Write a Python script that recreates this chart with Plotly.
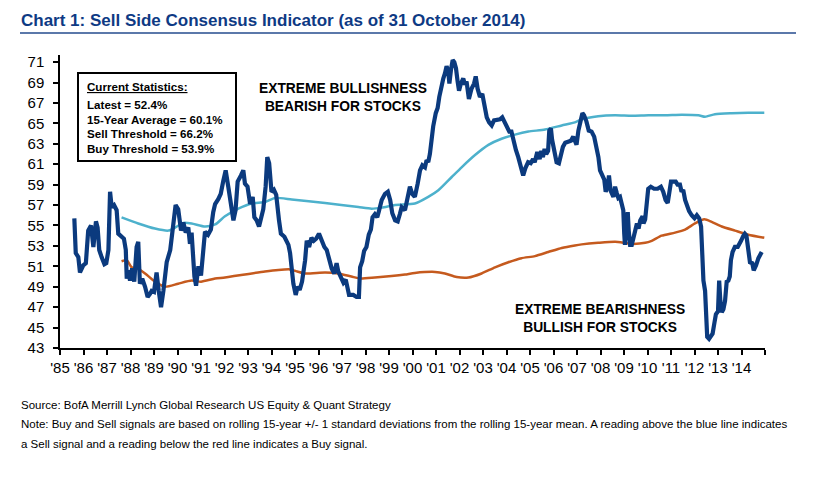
import plotly.graph_objects as go

# Sell side consensus indicator (%), decimal years
sentiment_year = [
    1985.61, 1985.67, 1985.78, 1985.85, 1985.99, 1986.10, 1986.20, 1986.32, 1986.42, 1986.50,
    1986.53, 1986.60, 1986.67, 1986.77, 1986.89, 1986.97, 1987.06, 1987.13, 1987.20, 1987.30,
    1987.41, 1987.48, 1987.60, 1987.72, 1987.80, 1987.84, 1987.90, 1987.98, 1988.07, 1988.16,
    1988.26, 1988.33, 1988.40, 1988.50, 1988.62, 1988.73, 1988.83, 1988.90, 1989.00, 1989.11,
    1989.20, 1989.30, 1989.40, 1989.54, 1989.69, 1989.82, 1989.92, 1990.03, 1990.15, 1990.25,
    1990.35, 1990.46, 1990.53, 1990.60, 1990.72, 1990.79, 1990.89, 1991.00, 1991.10, 1991.17,
    1991.30, 1991.42, 1991.52, 1991.60, 1991.74, 1991.84, 1991.95, 1992.05, 1992.16, 1992.30,
    1992.38, 1992.47, 1992.56, 1992.70, 1992.80, 1992.87, 1992.98, 1993.09, 1993.20, 1993.27,
    1993.37, 1993.47, 1993.56, 1993.65, 1993.75, 1993.82, 1993.90, 1994.00, 1994.10, 1994.20,
    1994.32, 1994.40, 1994.55, 1994.72, 1994.79, 1994.86, 1994.93, 1995.03, 1995.11, 1995.20,
    1995.30, 1995.43, 1995.50, 1995.60, 1995.70, 1995.80, 1995.90, 1996.02, 1996.13, 1996.25,
    1996.35, 1996.45, 1996.56, 1996.67, 1996.77, 1996.84, 1996.96, 1997.06, 1997.16, 1997.24,
    1997.30, 1997.48, 1997.62, 1997.72, 1997.77, 1997.86, 1997.94, 1998.04, 1998.14, 1998.23,
    1998.30, 1998.40, 1998.50, 1998.57, 1998.69, 1998.83, 1998.95, 1999.05, 1999.14, 1999.26,
    1999.37, 1999.46, 1999.54, 1999.68, 1999.79, 1999.89, 1999.99, 2000.10, 2000.22, 2000.32,
    2000.42, 2000.53, 2000.60, 2000.67, 2000.74, 2000.81, 2000.88, 2000.99, 2001.07, 2001.14,
    2001.24, 2001.31, 2001.38, 2001.45, 2001.52, 2001.57, 2001.64, 2001.71, 2001.78, 2001.85,
    2001.92, 2001.98, 2002.06, 2002.16, 2002.23, 2002.30, 2002.40, 2002.51, 2002.62, 2002.69,
    2002.77, 2002.87, 2002.97, 2003.06, 2003.16, 2003.26, 2003.37, 2003.47, 2003.58, 2003.72,
    2003.82, 2003.94, 2004.04, 2004.12, 2004.21, 2004.28, 2004.33, 2004.40, 2004.50, 2004.57,
    2004.64, 2004.71, 2004.80, 2004.92, 2005.03, 2005.13, 2005.20, 2005.31, 2005.41, 2005.48,
    2005.55, 2005.62, 2005.69, 2005.77, 2005.82, 2005.89, 2005.94, 2006.03, 2006.13, 2006.23,
    2006.30, 2006.40, 2006.50, 2006.63, 2006.74, 2006.84, 2006.91, 2006.98, 2007.06, 2007.13,
    2007.23, 2007.30, 2007.40, 2007.50, 2007.62, 2007.73, 2007.84, 2007.91, 2007.98, 2008.08,
    2008.16, 2008.22, 2008.31, 2008.36, 2008.43, 2008.55, 2008.62, 2008.69, 2008.76, 2008.83,
    2008.90, 2008.97, 2009.01, 2009.04, 2009.10, 2009.16, 2009.20, 2009.26, 2009.33, 2009.40,
    2009.47, 2009.55, 2009.62, 2009.69, 2009.79, 2009.83, 2009.90, 2009.96, 2010.03, 2010.14,
    2010.28, 2010.43, 2010.57, 2010.67, 2010.77, 2010.86, 2010.93, 2011.00, 2011.10, 2011.20,
    2011.28, 2011.38, 2011.45, 2011.52, 2011.60, 2011.67, 2011.77, 2011.88, 2012.00, 2012.10,
    2012.20, 2012.28, 2012.33, 2012.38, 2012.45, 2012.49, 2012.54, 2012.62, 2012.70, 2012.77,
    2012.85, 2012.91, 2013.00, 2013.02, 2013.05, 2013.10, 2013.16, 2013.23, 2013.30, 2013.37,
    2013.44, 2013.50, 2013.55, 2013.62, 2013.72, 2013.84, 2013.89, 2013.98, 2014.08, 2014.14,
    2014.21, 2014.29, 2014.36, 2014.46, 2014.52, 2014.62, 2014.72, 2014.86,
]
sentiment_value = [
    55.7, 52.3, 51.9, 50.4, 51.1, 51.3, 54.5, 55.0, 52.9, 54.3,
    55.4, 54.8, 52.6, 51.9, 51.2, 51.3, 52.6, 58.3, 56.8, 57.0,
    56.5, 54.2, 54.0, 53.7, 52.6, 49.8, 50.6, 49.6, 50.8, 49.5,
    52.9, 53.4, 49.3, 49.8, 49.0, 48.0, 48.3, 48.6, 48.5, 50.4,
    48.6, 47.0, 48.6, 51.4, 52.6, 55.5, 57.0, 56.6, 54.5, 55.3,
    54.3, 54.8, 53.2, 54.3, 50.0, 49.1, 51.0, 50.1, 52.2, 54.4,
    54.1, 54.6, 56.3, 57.1, 57.6, 58.1, 59.4, 60.4, 58.8, 56.5,
    55.5, 56.5, 59.3, 59.9, 60.4, 59.1, 58.8, 57.1, 57.8, 55.8,
    55.5, 54.9, 56.0, 56.6, 58.8, 61.7, 61.1, 58.3, 58.5, 58.0,
    55.5, 54.2, 53.9, 53.1, 52.3, 50.6, 49.3, 48.2, 49.0, 48.7,
    49.5, 51.6, 53.5, 52.9, 53.8, 53.5, 53.7, 54.2, 53.5, 52.9,
    52.6, 51.8, 50.8, 50.3, 51.3, 50.5, 49.9, 49.4, 49.7, 48.6,
    48.2, 48.2, 48.0, 48.0, 50.9, 51.5, 52.5, 52.9, 54.1, 54.6,
    55.8, 56.1, 55.8, 56.4, 57.5, 58.1, 58.3, 57.5, 56.2, 55.5,
    55.4, 56.1, 56.8, 56.5, 57.8, 58.8, 58.1, 57.8, 59.1, 60.4,
    60.9, 60.7, 61.4, 61.2, 62.0, 63.4, 64.7, 66.0, 66.5, 67.6,
    68.9, 69.4, 69.9, 70.6, 70.1, 68.9, 70.3, 71.2, 71.0, 70.4,
    69.1, 68.2, 68.9, 69.4, 68.8, 69.1, 67.4, 68.4, 68.9, 69.6,
    68.4, 67.6, 67.9, 66.6, 65.6, 65.1, 64.8, 65.3, 65.3, 65.4,
    65.6, 65.1, 64.5, 64.2, 64.2, 63.5, 62.9, 62.4, 61.7, 61.1,
    60.4, 59.9, 60.6, 61.2, 61.1, 61.5, 61.2, 62.2, 61.5, 62.3,
    61.7, 62.5, 62.0, 62.3, 64.3, 64.5, 63.4, 62.4, 61.2, 61.1,
    62.0, 62.7, 63.1, 63.2, 63.3, 63.7, 63.3, 62.9, 64.3, 64.9,
    66.0, 65.8, 65.2, 64.3, 64.2, 63.7, 62.7, 61.7, 60.4, 59.9,
    59.5, 58.3, 58.9, 59.9, 58.4, 57.8, 58.8, 58.2, 57.7, 57.8,
    57.0, 56.5, 54.2, 53.1, 54.9, 56.3, 54.5, 53.1, 53.1, 53.9,
    54.5, 55.2, 54.7, 55.5, 55.9, 55.2, 55.6, 57.5, 58.6, 58.8,
    58.6, 58.6, 58.8, 58.3, 57.5, 57.2, 58.5, 59.3, 59.3, 59.3,
    59.0, 59.0, 58.3, 58.5, 57.5, 56.9, 56.4, 56.0, 55.7, 56.0,
    55.7, 54.9, 52.9, 49.6, 48.6, 46.7, 44.1, 43.9, 44.2, 44.4,
    45.5, 46.3, 46.6, 48.6, 49.6, 47.6, 46.5, 46.8, 47.6, 49.5,
    49.6, 50.0, 51.6, 52.4, 52.9, 52.9, 53.2, 53.5, 54.0, 54.2,
    54.0, 52.2, 51.4, 51.3, 50.6, 51.1, 51.8, 52.4,
]

# Sell threshold: rolling 15-year mean + 1 std
sell_year = [
    1987.62, 1988.33, 1989.04, 1989.61, 1989.90, 1990.25, 1990.60, 1991.17, 1991.60, 1992.02,
    1992.59, 1993.16, 1993.73, 1994.15, 1994.86, 1996.28, 1997.70, 1998.26, 1998.70, 1999.26,
    2000.10, 2000.67, 2001.10, 2001.67, 2002.09, 2002.66, 2003.23, 2003.79, 2004.36, 2004.93,
    2005.64, 2006.35, 2006.91, 2007.20, 2007.90, 2008.62, 2009.33, 2010.04, 2010.75, 2011.46,
    2012.17, 2012.45, 2012.87, 2013.58, 2014.29, 2014.97,
]
sell_value = [
    55.8, 55.2, 54.7, 54.5, 54.8, 55.25, 55.2, 54.9, 55.1, 55.9,
    56.65, 57.15, 57.3, 57.7, 57.55, 57.2, 56.8, 56.65, 56.75, 57.0,
    57.15, 57.8, 58.45, 59.75, 60.7, 61.9, 62.9, 63.5, 63.9, 64.2,
    64.4, 64.8, 65.1, 65.4, 65.7, 65.8, 65.75, 65.8, 65.8, 65.85,
    65.8, 65.65, 65.9, 66.0, 66.05, 66.05,
]

# Buy threshold: rolling 15-year mean - 1 std
buy_year = [
    1987.62, 1987.84, 1988.05, 1988.33, 1988.62, 1989.04, 1989.47, 1990.03, 1990.60, 1991.00,
    1991.60, 1992.02, 1992.87, 1993.72, 1994.29, 1994.79, 1995.10, 1995.43, 1996.28, 1996.84,
    1997.40, 1997.77, 1998.40, 1999.11, 1999.68, 2000.10, 2000.96, 2001.38, 2001.88, 2002.38,
    2002.94, 2003.51, 2004.08, 2004.64, 2005.21, 2005.78, 2006.35, 2006.91, 2007.20, 2007.90,
    2008.62, 2009.33, 2009.90, 2010.18, 2010.60, 2011.17, 2011.60, 2012.02, 2012.42, 2012.73,
    2013.16, 2013.72, 2014.29, 2014.97,
]
buy_value = [
    51.5, 51.6, 50.9, 50.75, 50.3, 49.5, 49.0, 49.3, 49.6, 49.5,
    49.8, 49.9, 50.2, 50.5, 50.65, 50.7, 50.5, 50.3, 50.4, 50.3,
    50.0, 49.8, 49.9, 50.05, 50.2, 50.35, 50.45, 50.3, 49.95, 49.9,
    50.3, 50.9, 51.4, 51.8, 52.0, 52.4, 52.8, 53.05, 53.15, 53.3,
    53.4, 53.2, 53.3, 53.5, 54.0, 54.3, 54.6, 55.2, 55.6, 55.35,
    54.9, 54.5, 54.1, 53.8,
]

year_ticks = list(range(1985, 2016))
year_labels = ["'%02d" % (y % 100) for y in range(1985, 2015)] + [""]
value_ticks = list(range(43, 72, 2))

stats_lines = [
    "<u>Current Statistics:</u>",
    "Latest = 52.4%",
    "15-Year Average = 60.1%",
    "Sell Threshold = 66.2%",
    "Buy Threshold = 53.9%",
]

W, H = 835, 502
L, R, T, B = 60, 70, 55, 154


def px(x):
    return (x - L) / (W - L - R)


def py(y):
    return (H - B - y) / (H - T - B)


NAVY = "#0B3A7E"
SKY = "#4DB1CC"
RUST = "#C55A1E"
FONT = "Liberation Sans, Arial, sans-serif"

fig = go.Figure()

fig.add_trace(go.Scatter(
    x=sell_year, y=sell_value, mode="lines",
    line=dict(color=SKY, width=2.5, shape="spline", smoothing=0.6),
    hoverinfo="skip",
))
fig.add_trace(go.Scatter(
    x=buy_year, y=buy_value, mode="lines",
    line=dict(color=RUST, width=2.5, shape="spline", smoothing=0.6),
    hoverinfo="skip",
))
fig.add_trace(go.Scatter(
    x=sentiment_year, y=sentiment_value, mode="lines",
    line=dict(color=NAVY, width=4.2),
))

annotations = [
    dict(x=px(19), y=py(20), text="<b>Chart 1: Sell Side Consensus Indicator (as of 31 October 2014)</b>",
         font=dict(family=FONT, size=17, color="#0E3A84"),
         xanchor="left", yanchor="middle"),
    dict(x=px(343), y=py(97), text="<b>EXTREME BULLISHNESS<br>BEARISH FOR STOCKS</b>",
         font=dict(family=FONT, size=13.8, color="black"), xanchor="center", yanchor="middle"),
    dict(x=px(600), y=py(318), text="<b>EXTREME BEARISHNESS<br>BULLISH FOR STOCKS</b>",
         font=dict(family=FONT, size=13.8, color="black"), xanchor="center", yanchor="middle"),
    dict(x=px(19), y=py(405), text="Source: BofA Merrill Lynch Global Research US Equity & Quant Strategy",
         font=dict(family=FONT, size=11.5, color="black"), xanchor="left", yanchor="middle"),
    dict(x=px(19), y=py(424),
         text="Note: Buy and Sell signals are based on rolling 15-year +/- 1 standard deviations from the rolling 15-year mean. A reading above the blue line indicates",
         font=dict(family=FONT, size=11.5, color="black"), xanchor="left", yanchor="middle"),
    dict(x=px(19), y=py(444),
         text="a Sell signal and a reading below the red line indicates a Buy signal.",
         font=dict(family=FONT, size=11.5, color="black"), xanchor="left", yanchor="middle"),
]

stats_y = [86, 104, 119, 133, 148]
for line, yy in zip(stats_lines, stats_y):
    annotations.append(dict(
        x=px(85), y=py(yy), text="<b>%s</b>" % line,
        font=dict(family=FONT, size=11.6, color="black"),
        xanchor="left", yanchor="middle",
    ))

for a in annotations:
    a.update(xref="paper", yref="paper", showarrow=False)

shapes = [
    dict(type="line", xref="paper", yref="paper", x0=px(20), x1=px(796), y0=py(33), y1=py(33),
         line=dict(color="#5B78AA", width=2)),
    dict(type="rect", xref="paper", yref="paper", x0=px(78), x1=px(236), y0=py(73), y1=py(161),
         line=dict(color="black", width=2), fillcolor="white", layer="below"),
]

fig.update_layout(
    width=W, height=H,
    margin=dict(l=L, r=R, t=T, b=B),
    paper_bgcolor="white", plot_bgcolor="white",
    showlegend=False,
    annotations=annotations,
    shapes=shapes,
    font=dict(family=FONT, size=15, color="black"),
    xaxis=dict(
        range=[1985, 2015], tickmode="array", tickvals=year_ticks, ticktext=year_labels,
        ticks="outside", ticklen=5, tickwidth=1.5, tickcolor="black",
        showline=True, linecolor="black", linewidth=1.5,
        showgrid=False, zeroline=False, tickfont=dict(size=15),
    ),
    yaxis=dict(
        range=[43, 71.7], tickmode="array", tickvals=value_ticks,
        ticks="outside", ticklen=5, tickwidth=1.5, tickcolor="black",
        showline=True, linecolor="black", linewidth=1.5,
        showgrid=False, zeroline=False, tickfont=dict(size=15),
        ticklabelstandoff=6,
    ),
)

# drop the default page margin so the figure sits at the window's top-left corner
fig.write_html(
    "out.html",
    config={"displayModeBar": False},
    post_script="document.body.style.margin = '0';",
)
